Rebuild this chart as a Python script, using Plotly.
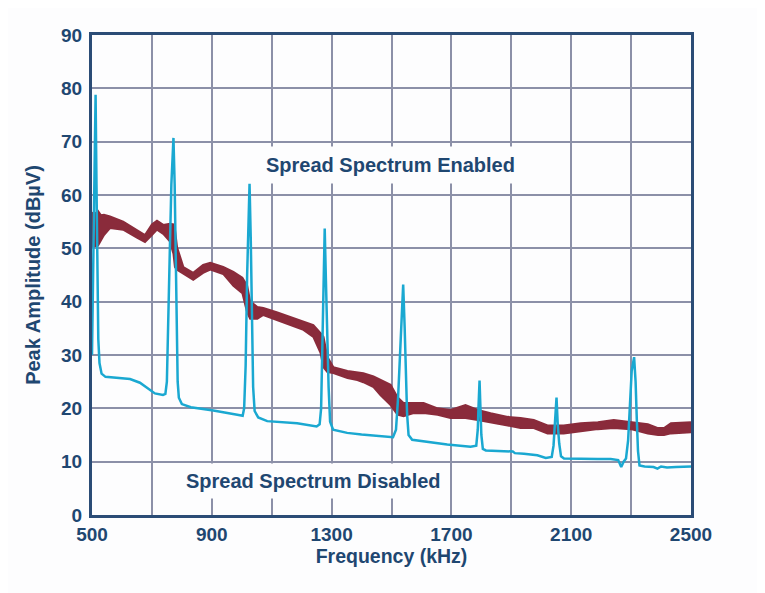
import plotly.graph_objects as go

# ---- Data ----
# Spread Spectrum Disabled (cyan) : frequency (kHz), peak amplitude (dBuV)
dis_freq = [500, 504, 508, 512, 515, 518, 521, 525, 532, 545, 600, 627, 660, 684, 710, 737, 745,
            750, 755, 760, 765, 772, 776, 779, 782, 786, 790, 800, 830, 905, 985, 1003,
            1008, 1013, 1018, 1022, 1026, 1030, 1034, 1038, 1043, 1055, 1085, 1185, 1250,
            1260, 1265, 1270, 1274, 1277, 1281, 1285, 1290, 1295, 1305, 1352, 1400, 1505,
            1515, 1522, 1528, 1534, 1539, 1544, 1548, 1552, 1557, 1569, 1686, 1764,
            1783, 1788, 1791, 1794, 1797, 1800, 1805, 1815, 1905, 1912, 1942, 1987, 2015,
            2035, 2041, 2046, 2051, 2055, 2060, 2066, 2076, 2188, 2232, 2257, 2267, 2275,
            2283, 2290, 2296, 2302, 2310, 2315, 2319, 2323, 2328, 2345, 2375, 2388, 2400,
            2420, 2450, 2500]
dis_amp = [30, 45, 62, 78.8, 62, 45, 33, 28.5, 26.5, 25.9, 25.6, 25.5, 24.8, 23.8, 22.8, 22.5, 22.7,
           25, 35, 50, 62, 70.7, 62, 48, 34, 25, 22, 20.8, 20.2, 19.6, 18.8, 18.6,
           20, 28, 45, 55, 62.1, 52, 38, 24, 19.5, 18.3, 17.6, 17.2, 16.6,
           17, 20, 32, 45, 53.7, 44, 32, 24, 17.5, 16, 15.4, 15.1, 14.6,
           16, 22, 30, 38, 43.2, 35, 26, 19, 15, 14.1, 13.2, 12.8,
           13, 16, 21, 25.2, 20, 15, 12.4, 12.1, 11.9, 11.6, 11.5, 11.2, 10.7,
           10.9, 13, 18, 22, 17, 13.4, 11, 10.6, 10.5, 10.5, 10.3, 9.0, 10,
           10.6, 14, 21, 27, 29.6, 25, 18, 12, 9.3, 9.1, 9.0, 8.7, 9.1,
           8.9, 9.0, 9.1]

# Spread Spectrum Enabled (maroon, noisy band): frequency, band top, band bottom
en_freq = [500, 510, 520, 530, 540, 560, 604, 650, 677, 700, 717, 738, 760, 772, 777, 784, 795,
           805, 838, 871, 895, 938, 972, 1002, 1018, 1028, 1052, 1072, 1119, 1162, 1206,
           1239, 1263, 1273, 1286, 1306, 1353, 1386, 1406, 1440, 1463, 1497, 1520, 1540,
           1574, 1607, 1654, 1697, 1747, 1788, 1831, 1888, 1931, 1975, 2021, 2075, 2132,
           2189, 2242, 2299, 2356, 2390, 2410, 2433, 2500]
en_top = [56.7, 56.5, 57.0, 56.2, 56.3, 56.0, 55.0, 53.5, 52.5, 54.5, 55.2, 54.4, 54.6, 54.5, 53.5, 50.2, 48.0,
          46.5, 45.4, 46.9, 47.3, 46.5, 45.6, 44.5, 43.0, 40.1, 39.0, 38.8, 38.0, 37.1, 36.2,
          35.6, 34.1, 33.4, 29.6, 27.7, 27.0, 26.8, 26.6, 26.0, 25.3, 24.4, 22.1, 21.0,
          21.0, 21.0, 20.0, 19.7, 20.6, 19.7, 19.1, 18.4, 18.2, 17.8, 16.8, 16.8, 17.2,
          17.4, 17.8, 17.4, 17.0, 16.3, 16.3, 17.2, 17.4]
en_bot = [50.3, 50.4, 50.5, 51.5, 52.5, 53.8, 53.5, 52.0, 51.2, 52.5, 53.5, 52.7, 51.3, 49.0, 46.5, 46.0, 45.6,
          45.2, 44.1, 45.4, 46.0, 45.2, 43.0, 41.6, 38.0, 36.8, 36.8, 37.5, 36.5, 35.6, 34.7,
          33.4, 30.4, 27.7, 26.8, 26.6, 25.7, 25.3, 24.9, 24.0, 22.5, 20.6, 18.8, 18.5,
          19.1, 19.1, 18.8, 18.2, 18.2, 17.8, 17.4, 16.8, 16.3, 16.3, 15.3, 15.3, 15.7,
          16.1, 16.3, 16.1, 15.3, 15.0, 15.0, 15.3, 15.5]

x_grid_vals = [500, 700, 900, 1100, 1300, 1500, 1700, 1900, 2100, 2300, 2500]
x_tick_text = ["500", "", "900", "", "1300", "", "1700", "", "2100", "", "2500"]
y_tick_vals = [0, 10, 20, 30, 40, 50, 60, 70, 80, 90]

label_enabled = "Spread Spectrum Enabled"
label_disabled = "Spread Spectrum Disabled"

# ---- Style ----
NAVY = "#1f4771"
FRAME = "#2b4c76"
GRID = "#8c90a8"
CYAN = "#1aa8d1"
MAROON = "#8a2b3b"
BG = "#fdfdfe"
FONT = "Liberation Sans, Arial, Helvetica, sans-serif"

fig = go.Figure()

fig.add_trace(go.Scatter(x=en_freq, y=en_bot, mode="lines",
                         line=dict(color=MAROON, width=2), showlegend=False,
                         hoverinfo="skip"))
fig.add_trace(go.Scatter(x=en_freq, y=en_top, mode="lines", fill="tonexty",
                         fillcolor=MAROON, line=dict(color=MAROON, width=2),
                         showlegend=False, name=label_enabled))
fig.add_trace(go.Scatter(x=dis_freq, y=dis_amp, mode="lines",
                         line=dict(color=CYAN, width=2.5), showlegend=False,
                         name=label_disabled))

ann_font = dict(family=FONT, size=20, color=NAVY, weight="bold")
fig.add_annotation(x=1497, y=65.7, text=label_enabled, showarrow=False,
                   font=ann_font, bgcolor=BG, borderpad=7)
fig.add_annotation(x=1239, y=6.3, text=label_disabled, showarrow=False,
                   font=ann_font, bgcolor=BG, borderpad=6)

tick_font = dict(family=FONT, size=19, color=NAVY, weight="bold")
ytitle_font = dict(family=FONT, size=20, color=NAVY, weight="bold")
xtitle_font = dict(family=FONT, size=19.5, color=NAVY, weight="bold")

# page body adds an 8px offset, so the figure is sized/margined to compensate
fig.update_layout(
    width=757, height=585,
    margin=dict(l=84, r=74, t=27, b=78),
    paper_bgcolor=BG,
    plot_bgcolor=BG,
    font=dict(family=FONT, color=NAVY),
    xaxis=dict(range=[500, 2500], tickmode="array", tickvals=x_grid_vals,
               ticktext=x_tick_text, showgrid=True, gridcolor=GRID, gridwidth=1.5,
               showline=True, linecolor=FRAME, linewidth=3, mirror=True,
               ticks="", tickfont=tick_font, zeroline=False,
               title=dict(text="Frequency (kHz)", font=xtitle_font, standoff=6)),
    yaxis=dict(range=[0, 90], tickmode="array", tickvals=y_tick_vals,
               showgrid=True, gridcolor=GRID, gridwidth=1.5,
               showline=True, linecolor=FRAME, linewidth=3, mirror=True,
               ticks="", tickfont=tick_font, zeroline=False, ticklabelstandoff=3,
               title=dict(text="Peak Amplitude (dBµV)", font=ytitle_font, standoff=16)),
)

fig.write_html("out.html")
